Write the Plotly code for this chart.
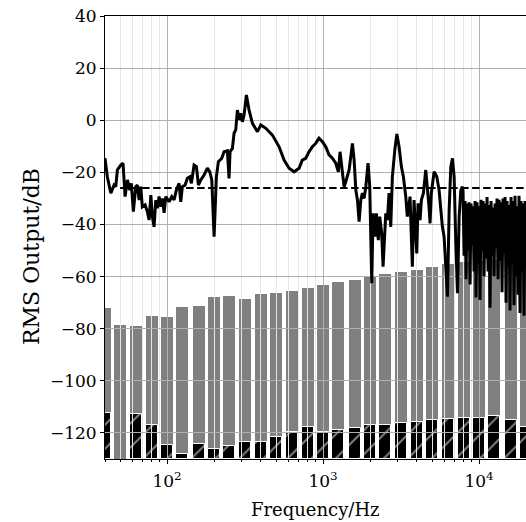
import math
import plotly.graph_objects as go

# ---------------- data ----------------
band_hz = [40, 50, 63, 80, 100, 125, 160, 200, 250, 315, 400, 500, 630, 800,
           1000, 1250, 1600, 2000, 2500, 3150, 4000, 5000, 6300, 8000,
           10000, 12500, 16000, 20000]
gray_db = [-72.0, -78.5, -79.0, -75.0, -75.5, -71.6, -71.3, -67.8, -67.4, -68.6,
           -66.7, -66.3, -65.5, -64.4, -63.2, -62.2, -61.3, -60.3, -59.0, -58.2,
           -57.5, -56.3, -55.0, -54.5, -54.0, -53.5, -53.0, -52.5]
hatched_db = [-112.2, None, -112.7, -117.0, -124.6, -128.0, -124.4, -126.2, -124.9,
              -123.6, -123.6, -121.4, -119.5, -117.6, -119.5, -118.9, -118.2,
              -117.0, -117.0, -116.0, -115.7, -115.0, -114.8, -114.1, -114.1,
              -113.5, -115.0, -117.6]

freq_hz = [40, 41.4, 43.6, 45.7, 46.9, 48.0, 50.5, 52.2, 53.8, 55.7, 57.7, 59.0,
           60.8, 63.0, 64.5, 66.2, 67.8, 69.4, 72.3, 74.8, 76.7, 78.7, 80.5, 82.5,
           84.7, 86.7, 88.9, 91.1, 93.3, 95.7, 98.1, 103, 107.2, 110.9, 114.7,
           119.4, 122.4, 125.3, 130.4, 134.9, 139.8, 143.2, 149.0, 154.2, 158.8,
           164.5, 172.7, 181.3, 187.8, 193.5, 200.2, 207.1, 213.3, 224.3, 231.9,
           243.6, 249.6, 253.4, 262.3, 268.8, 275.6, 282.4, 289.6, 296.7, 303.9,
           311.7, 322.4, 335.5, 352.6, 379.6, 399.1, 429.8, 473.5, 522.6, 562.6,
           605.7, 652.1, 702, 736, 774, 813, 854, 897, 942, 990, 1041, 1092, 1148,
           1206, 1253, 1285, 1318, 1364, 1399, 1469, 1543, 1582, 1622, 1661, 1703,
           1746, 1788, 1834, 1880, 1942, 1992, 2021, 2052, 2093, 2154, 2197, 2261,
           2308, 2376, 2425, 2472, 2524, 2584, 2649, 2717, 2782, 2884, 2972, 3072,
           3177, 3274, 3391, 3469, 3611, 3681, 3736, 3831, 3929, 3988, 4065, 4189,
           4270, 4398, 4553, 4663, 4779, 4852, 4946, 5150, 5360, 5544, 5684, 5822,
           5970, 6123, 6274, 6431, 6593, 6756, 6924, 7098, 7274, 7455, 7642, 7822,
           7897, 8014, 8134, 8255, 8377, 8502, 8628, 8757, 8887, 9019, 9153, 9289,
           9427, 9568, 9710, 9854, 10001, 10149, 10300, 10453, 10609, 10766, 10926,
           11089, 11253, 11421, 11590, 11763, 11938, 12115, 12295, 12478, 12663,
           12852, 13043, 13237, 13433, 13633, 13836, 14041, 14250, 14462, 14677,
           14895, 15117, 15341, 15569, 15801, 16036, 16274, 16516, 16762, 17011,
           17264, 17520, 17781, 18045, 18314, 18586, 18862, 19142, 19427, 19716]
level_db = [-14.6, -21.7, -28.0, -24.9, -25.5, -19.1, -17.2, -16.5, -29.3, -22.9,
            -26.8, -24.2, -35.1, -25.5, -24.9, -30.6, -25.5, -33.2, -32.5, -35.1,
            -38.3, -28.7, -37.0, -40.9, -30.6, -33.8, -29.3, -33.2, -30.0, -35.5,
            -29.3, -31.3, -29.3, -30.6, -26.8, -24.2, -31.3, -25.5, -24.9, -22.3,
            -21.7, -24.2, -17.2, -17.8, -24.9, -22.9, -21.0, -18.4, -19.8, -22.9,
            -44.7, -21.7, -15.9, -14.6, -12.1, -11.7, -22.3, -12.1, -10.8, -5.0,
            -3.7, 3.9, 0.1, 2.7, -0.6, 2.0, 9.7, 3.9, -1.2, -4.4, -1.8, -3.1, -5.7,
            -10.2, -15.3, -18.4, -19.8, -18.4, -15.3, -14.6, -12.1, -10.2, -8.9,
            -6.9, -8.2, -10.2, -13.3, -14.6, -16.5, -19.8, -12.1, -17.2, -25.5,
            -23.6, -19.1, -8.9, -15.3, -26.8, -30.6, -38.9, -30.6, -28.0, -30.0,
            -25.5, -16.5, -25.5, -53.6, -62.5, -35.7, -44.7, -35.7, -46.0, -37.0,
            -43.4, -56.2, -44.7, -35.7, -38.3, -28.0, -40.9, -21.7, -11.4, -5.3,
            -10.2, -17.8, -21.7, -29.3, -37.0, -29.3, -44.7, -56.2, -30.6, -44.7,
            -51.1, -31.9, -38.3, -30.6, -28.0, -19.1, -25.5, -33.2, -39.6, -28.0,
            -19.7, -21.7, -26.8, -34.3, -40.9, -44.7, -56.2, -67.7, -34.5, -17.8,
            -14.6, -21.7, -47.2, -66.4, -37.0, -26.8, -25.5,
            -27, -52, -31, -61, -32, -50, -31.5, -63, -32, -48, -33, -58, -31, -68,
            -31.5, -55, -33, -69, -30.5, -50, -31, -60, -32, -53, -29.5, -58, -32.5,
            -72, -31, -52, -33.5, -60, -32, -49, -30, -61, -30.5, -54, -31.5, -66,
            -30, -51, -29.5, -70, -31, -56, -32.5, -73, -29.5, -55, -31, -71, -29,
            -60, -33, -67, -29, -74, -31, -58, -32, -75, -31]

threshold_hz = [50, 20000]
threshold_db = [-26, -26]

x_min_hz, x_max_hz = 40, 20000
y_min, y_max = -130, 40
y_ticks = [-120, -100, -80, -60, -40, -20, 0, 20, 40]
major_x_ticks = [100, 1000, 10000]
major_x_labels = ["10<sup>2</sup>", "10<sup>3</sup>", "10<sup>4</sup>"]
minor_x_ticks = [m * d for d in (10, 100, 1000, 10000) for m in range(2, 10)
                 if x_min_hz <= m * d <= x_max_hz]

FONT = "DejaVu Serif"
log_range = [math.log10(x_min_hz), math.log10(x_max_hz)]
band_pos = [math.log10(f) for f in band_hz]

fig = go.Figure()

# bars (lower subplot, linear axis in log10 units)
fig.add_trace(go.Bar(
    x=band_pos, y=[v - y_min for v in gray_db], base=y_min, width=0.077,
    marker=dict(color="#808080", line=dict(width=0)),
    xaxis="x", yaxis="y", showlegend=False))
fig.add_trace(go.Bar(
    x=band_pos, y=[None if v is None else v - y_min for v in hatched_db],
    base=y_min, width=0.077,
    marker=dict(color="black", line=dict(color="white", width=1),
                pattern=dict(shape="/", fgcolor="white", bgcolor="black",
                             size=17, solidity=0.12)),
    xaxis="x", yaxis="y", showlegend=False))

# line traces on upper subplot (log axis with grid above the bars)
fig.add_trace(go.Scatter(
    x=threshold_hz, y=threshold_db, mode="lines",
    line=dict(color="black", width=2, dash="7.5px,3.5px"),
    xaxis="x2", yaxis="y2", showlegend=False))
fig.add_trace(go.Scatter(
    x=freq_hz, y=level_db, mode="lines",
    line=dict(color="black", width=3),
    xaxis="x2", yaxis="y2", showlegend=False))

fig.update_layout(
    width=526, height=522,
    margin=dict(l=105, r=0, t=16, b=63, autoexpand=False),
    paper_bgcolor="white", plot_bgcolor="rgba(0,0,0,0)",
    barmode="overlay", bargap=0,
    font=dict(family=FONT, size=17, color="black"),
    xaxis=dict(type="linear", range=log_range, visible=False, domain=[0, 1],
               automargin=False),
    yaxis=dict(range=[y_min, y_max], visible=False, domain=[0, 1],
               automargin=False),
    xaxis2=dict(type="log", range=log_range, anchor="y2", domain=[0, 1],
                automargin=False, ticklabelstandoff=3,
                tickvals=major_x_ticks, ticktext=major_x_labels,
                ticks="outside", ticklen=4, tickwidth=1, tickcolor="black",
                showline=True, linecolor="black", linewidth=1, mirror=True,
                showgrid=True, gridcolor="#b0b0b0", gridwidth=1,
                zeroline=False, tickfont=dict(family=FONT, size=17),
                minor=dict(tickvals=minor_x_ticks, ticks="outside", ticklen=2,
                           tickwidth=1, tickcolor="black", showgrid=True,
                           gridcolor="#e6e6e6", gridwidth=1)),
    yaxis2=dict(range=[y_min, y_max], anchor="x2", domain=[0, 1],
                automargin=False,
                tickvals=y_ticks, ticks="outside", ticklen=4, tickwidth=1,
                tickcolor="black", showline=True, linecolor="black", linewidth=1,
                mirror=False, showgrid=True, gridcolor="#b0b0b0", gridwidth=1,
                zeroline=False, tickfont=dict(family=FONT, size=17)),
    annotations=[
        dict(text="Frequency/Hz", xref="paper", yref="paper", x=0.5, y=-0.115,
             xanchor="center", yanchor="middle", showarrow=False,
             font=dict(family=FONT, size=18)),
        dict(text="RMS Output/dB", xref="paper", yref="paper", x=-0.176, y=0.458,
             xanchor="center", yanchor="middle", textangle=-90, showarrow=False,
             font=dict(family=FONT, size=22)),
    ],
)

fig.write_html("out.html", config={"displayModeBar": False},
               post_script="document.body.style.margin='0px';")
